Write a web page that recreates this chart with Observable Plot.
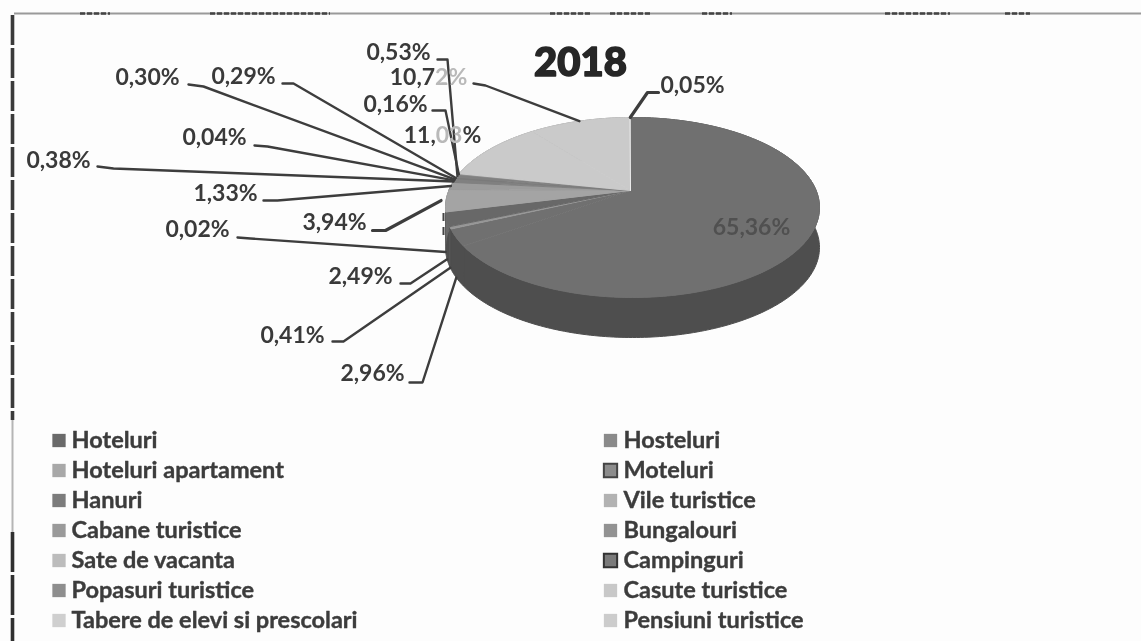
<!DOCTYPE html>
<html>
<head>
<meta charset="utf-8">
<script src="https://cdn.jsdelivr.net/npm/d3@7"></script>
<script src="https://cdn.jsdelivr.net/npm/@observablehq/plot@0.6"></script>
<style>
html,body{margin:0;padding:0;background:#fdfdfd;overflow:hidden}
svg{display:block;background:#fdfdfd;filter:blur(.5px)}
</style>
</head>
<body>
<div id="chart"></div>
<script>
// Data, clockwise from 12 o'clock
const sliceValues = [65.36, 2.96, 0.41, 2.49, 0.02, 3.94, 1.33, 0.38, 0.04, 0.30, 0.29, 0.53, 0.16, 11.03, 10.72, 0.05];
const sliceLabels = ["65,36%","2,96%","0,41%","2,49%","0,02%","3,94%","1,33%","0,38%","0,04%","0,30%","0,29%","0,53%","0,16%","11,03%","10,72%","0,05%"];
const sliceFills  = ["#707070","#707070","#969696","#686868","#888888","#a4a4a4","#9c9c9c","#808080","#808080","#808080","#7a7a7a","#808080","#909090","#cacaca","#cacaca","#eeeeee"];
const wallFills   = ["#4e4e4e","#4e4e4e","#4e4e4e","#4e4e4e","#555555","#6a6a6a","#555555","#555555","#555555","#555555","#555555","#555555","#666666","#8a8a8a","#8a8a8a","#999999"];
const legendNames = ["Hoteluri","Hosteluri","Hoteluri apartament","Moteluri","Hanuri","Vile turistice","Cabane turistice","Bungalouri","Sate de vacanta","Campinguri","Popasuri turistice","Casute turistice","Tabere de elevi si prescolari","Pensiuni turistice"];
const legendFills = ["#6a6a6a","#8a8a8a","#a8a8a8","#8c8c8c","#7c7c7c","#b2b2b2","#9a9a9a","#929292","#bcbcbc","#7a7a7a","#8e8e8e","#c8c8c8","#cfcfcf","#cccccc"];
const legendEdges = ["none","none","none","#444444","none","none","none","none","none","#333333","none","none","none","none"];

// Layout of the labels and their leader elbows
const labelX = [751,372,292,360,197,334,225,58,214,147,243,398,395,442,428,692];
const labelY = [227,373,335,276,229,222,193,160,137,77,76,52,104,135,77,85];
const leaderStartX = [null,409,332,400,237,372,263,97,254,188,282,437,432,null,473,658];
const leaderStartY = [null,382,341,283,237,230,200,166,145,84,83,59,110,null,83,92];
const leaderElbowX = [null,422,343,410,250,385,277,113,267,203,293,447,445,null,485,647];
const leaderElbowY = [null,382,341,283,238,230,200,168,146,86,83,59,110,null,85,92];

// Pie geometry: the ellipse of the top face and the apex seen in perspective
const apex = {x: 630, y: 190};
const ell = {x: 632, y: 207, rx: 187, ry: 90, squash: 0.48, depth: 40};
function rim(frac) {
  const t = frac * 2 * Math.PI;
  const dx = Math.sin(t), dy = -Math.cos(t) * ell.squash;
  const ax = (apex.x - ell.x) / ell.rx, ay = (apex.y - ell.y) / ell.ry;
  const bx = dx / ell.rx, by = dy / ell.ry;
  const A = bx*bx + by*by, B = 2*(ax*bx + ay*by), C = ax*ax + ay*ay - 1;
  const s = (-B + Math.sqrt(B*B - 4*A*C)) / (2*A);
  return {x: apex.x + s*dx, y: apex.y + s*dy};
}
const total = d3.sum(sliceValues);
let run = 0;
const slices = sliceValues.map((v, i) => {
  const from = run / total; run += v; const to = run / total;
  return {i, v, from, to, mid: (from + to) / 2, label: sliceLabels[i], fill: sliceFills[i], wall: wallFills[i]};
});
function arcPts(s) {
  const n = Math.max(2, Math.ceil((s.to - s.from) * 360));
  return d3.range(n + 1).map(k => rim(s.from + (s.to - s.from) * k / n));
}
const topPts = slices.flatMap(s => [apex, ...arcPts(s)].map(p => ({x: p.x, y: p.y, s: s.i, c: s.fill})));
const wallPts = slices.flatMap(s => {
  const a = arcPts(s);
  return [...a, ...a.map(p => ({x: p.x, y: p.y + ell.depth})).reverse()].map(p => ({x: p.x, y: p.y, s: s.i, c: s.wall}));
});
// Leader lines end on the slice's own outer edge
const leaders = slices.filter(s => leaderStartX[s.i] != null).flatMap(s => {
  const r = rim(s.mid);
  const inset = s.i === 5 ? 5 : 0;
  const end = {x: r.x - inset, y: r.y + (r.y > ell.y ? ell.depth : 0)};
  return [{x: leaderStartX[s.i], y: leaderStartY[s.i]}, {x: leaderElbowX[s.i], y: leaderElbowY[s.i]}, end]
    .map(p => ({...p, s: s.i, w: s.i === 5 || s.i === 15 ? 3.2 : 2.4}));
});
const labels = slices.map(s => ({x: labelX[s.i], y: labelY[s.i], text: s.label, i: s.i}));
const legend = legendNames.map((name, k) => ({
  name, fill: legendFills[k], edge: legendEdges[k],
  sx: k % 2 ? 610 : 58.5,
  tx: k % 2 ? 623 : 71,
  y: 440 + 30 * Math.floor(k / 2)
}));
// Scanned page frame
const frameLeft = [[15,420,"#3a3a3a",3.6,"30 3"],[420,532,"#b5b5b5",2,null],[532,641,"#303030",3.6,"40 3"]];
const smudges = [[80,110],[210,330],[550,592],[610,652],[702,732],[885,950],[1005,1030]];

const plot = Plot.plot({
  width: 1141, height: 641,
  marginTop: 0, marginRight: 0, marginBottom: 0, marginLeft: 0,
  style: {background: "#fdfdfd", fontFamily: "Lato, sans-serif"},
  x: {domain: [0, 1141], range: [0, 1141], axis: null},
  y: {domain: [0, 641], range: [0, 641], axis: null},
  marks: [
    Plot.ruleY([13], {x1: 14, x2: 1141, stroke: "#9a9a9a", strokeWidth: 2}),
    Plot.ruleY(smudges, {x1: d => d[0], x2: d => d[1], y: 13, stroke: "#444444", strokeWidth: 2.5, strokeDasharray: "5 2"}),
    ...frameLeft.map(f => Plot.ruleX([12], {y1: f[0], y2: f[1], stroke: f[2], strokeWidth: f[3], strokeDasharray: f[4]})),
    Plot.line(wallPts, {x: "x", y: "y", z: "s", fill: "c", stroke: "c", strokeWidth: 1}),
    Plot.line(topPts, {x: "x", y: "y", z: "s", fill: "c", stroke: "c", strokeWidth: 1}),
    Plot.line(leaders, {x: "x", y: "y", z: "s", stroke: "#3d3d3d", strokeWidth: "w", curve: "linear"}),
    Plot.ruleX([443], {y1: 213, y2: 237, stroke: "#444444", strokeWidth: 2, strokeDasharray: "8 6"}),
    Plot.text(["2018"], {x: 580, y: 63, text: d => d, fontSize: 40, fontWeight: 900, fill: "#262626", stroke: "#262626", strokeWidth: 1.6}),
    Plot.text(labels, {x: "x", y: "y", text: "text", fontSize: 23, fontWeight: 700,
      fill: d => d.i === 0 ? "#505050" : "#3a3a3a"}),
    Plot.dot(legend, {x: "sx", y: "y", symbol: "square", r: 7.5, fill: "fill", stroke: "edge", strokeWidth: 2}),
    Plot.text(legend, {x: "tx", y: "y", text: "name", textAnchor: "start", fontSize: 23.5, fontWeight: 700, fill: "#3c3c3c", stroke: "#3c3c3c", strokeWidth: .4})
  ]
});
// Parts of two labels are washed out in the scan, exactly as the pie's pale slice shows through
const fade = {"11,03%": [["11,","#3a3a3a"],["03","#b9b9b9"],["%","#3a3a3a"]], "10,72%": [["10,7","#3a3a3a"],["2%","#b9b9b9"]]};
d3.select(plot).selectAll("text").each(function() {
  const parts = fade[this.textContent];
  if (!parts) return;
  const el = d3.select(this); el.text(null);
  parts.forEach(p => el.append("tspan").attr("fill", p[1]).text(p[0]));
});
document.getElementById("chart").append(plot);
</script>
</body>
</html>
